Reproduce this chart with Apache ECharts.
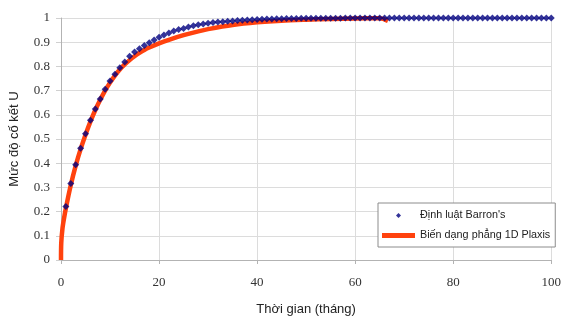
<!DOCTYPE html>
<html>
<head>
<meta charset="utf-8">
<script src="https://cdn.jsdelivr.net/npm/echarts@6/dist/echarts.min.js"></script>
<style>
  html, body { margin: 0; padding: 0; background: #fff; }
  #chart { width: 564px; height: 321px; }
</style>
</head>
<body>
<div id="chart"></div>
<script>
// Barron's law: degree of consolidation at each month (t = 1 .. 100)
const barronMonths = [];
for (let m = 1; m <= 100; m++) barronMonths.push(m);
const barronU = [
  0.221, 0.316, 0.394, 0.462, 0.522, 0.577, 0.624, 0.665, 0.706, 0.740,
  0.768, 0.794, 0.818, 0.842, 0.859, 0.873, 0.886, 0.898, 0.909, 0.920,
  0.930, 0.938, 0.946, 0.952, 0.957, 0.963, 0.968, 0.972, 0.975, 0.978,
  0.981, 0.983, 0.985, 0.987, 0.988, 0.990, 0.991, 0.992, 0.993, 0.994,
  0.995, 0.9955, 0.996, 0.9965, 0.997, 0.9975, 0.998, 0.998, 0.9985, 0.9985,
  0.999, 0.999, 0.999, 0.999, 0.999, 0.999, 0.999, 1, 1, 1,
  1, 1, 1, 1, 1, 1, 1, 1, 1, 1,
  1, 1, 1, 1, 1, 1, 1, 1, 1, 1,
  1, 1, 1, 1, 1, 1, 1, 1, 1, 1,
  1, 1, 1, 1, 1, 1, 1, 1, 1, 1
];

// Plaxis 1D plane-strain result
const plaxisT = [
  0, 0.05, 0.3, 0.6, 1, 2, 3, 4, 5, 6,
  7, 8, 9, 10, 11, 12, 13, 14, 15, 16,
  17, 18, 20, 22, 25, 28, 30, 35, 40, 45,
  50, 55, 60, 65, 66.7
];
const plaxisU = [
  0, 0.07, 0.13, 0.17, 0.215, 0.31, 0.39, 0.458, 0.518, 0.572,
  0.62, 0.662, 0.7, 0.733, 0.762, 0.787, 0.808, 0.826, 0.842, 0.856,
  0.868, 0.878, 0.895, 0.91, 0.929, 0.945, 0.954, 0.971, 0.982, 0.989,
  0.993, 0.996, 0.998, 0.999, 0.988
];

const xTicks = { min: 0, max: 100, step: 20 };
const yTicks = { min: 0, max: 1, step: 0.1 };

const seriesNames = ["Định luật Barron's", 'Biến dạng phẳng 1D Plaxis'];

const barronData = barronMonths.map((t, i) => [t, barronU[i]]);
const plaxisData = plaxisT.map((t, i) => [t, plaxisU[i]]);

const chart = echarts.init(document.getElementById('chart'), null, { renderer: 'canvas' });

const tickFont = { fontFamily: 'Liberation Serif, DejaVu Serif, serif', fontSize: 13, color: '#333' };
const nameFont = { fontFamily: 'Liberation Sans, Arial, sans-serif', fontSize: 13, color: '#222' };

chart.setOption({
  animation: false,
  backgroundColor: '#fff',
  grid: { left: 59, right: 10, top: 18, bottom: 60 },
  legend: {
    orient: 'vertical',
    left: 378,
    top: 203,
    padding: [7, 5, 6, 4],
    itemGap: 9,
    itemWidth: 33,
    itemHeight: 5,
    symbolKeepAspect: true,
    backgroundColor: '#fff',
    borderColor: '#8c8c8c',
    borderWidth: 1,
    textStyle: { fontFamily: 'Liberation Sans, Arial, sans-serif', fontSize: 10.8, color: '#222', padding: [0, 0, 0, 0] },
    data: [
      { name: seriesNames[0], icon: 'path://M3,0L6,3L3,6L0,3Z' },
      { name: seriesNames[1], icon: 'rect' }
    ]
  },
  xAxis: {
    type: 'value',
    min: xTicks.min,
    max: xTicks.max,
    interval: xTicks.step,
    name: 'Thời gian (tháng)',
    nameLocation: 'middle',
    nameGap: 43,
    nameTextStyle: nameFont,
    axisLine: { lineStyle: { color: '#b3b3b3', width: 1 } },
    axisTick: { show: true, length: 4, lineStyle: { color: '#b3b3b3' } },
    axisLabel: Object.assign({ margin: 16 }, tickFont),
    splitLine: { show: true, lineStyle: { color: '#dcdcdc', width: 1 } }
  },
  yAxis: {
    type: 'value',
    min: yTicks.min,
    max: yTicks.max,
    interval: yTicks.step,
    name: 'Mức độ cố kết U',
    nameLocation: 'middle',
    nameGap: 40,
    nameTextStyle: nameFont,
    axisLine: { show: true, lineStyle: { color: '#b3b3b3', width: 1 } },
    axisTick: { show: true, length: 5, lineStyle: { color: '#d0d0d0' } },
    axisLabel: Object.assign({ margin: 11 }, tickFont),
    splitLine: { show: true, lineStyle: { color: '#dcdcdc', width: 1 } }
  },
  series: [
    {
      name: seriesNames[1],
      type: 'line',
      data: plaxisData,
      showSymbol: false,
      symbol: 'none',
      smooth: 0.3,
      z: 2,
      lineStyle: { color: '#ff420e', width: 4.5 },
      itemStyle: { color: '#ff420e' }
    },
    {
      name: seriesNames[0],
      type: 'scatter',
      data: barronData,
      symbol: 'diamond',
      symbolSize: 7,
      z: 3,
      itemStyle: { color: '#000080' }
    }
  ]
});
</script>
</body>
</html>
